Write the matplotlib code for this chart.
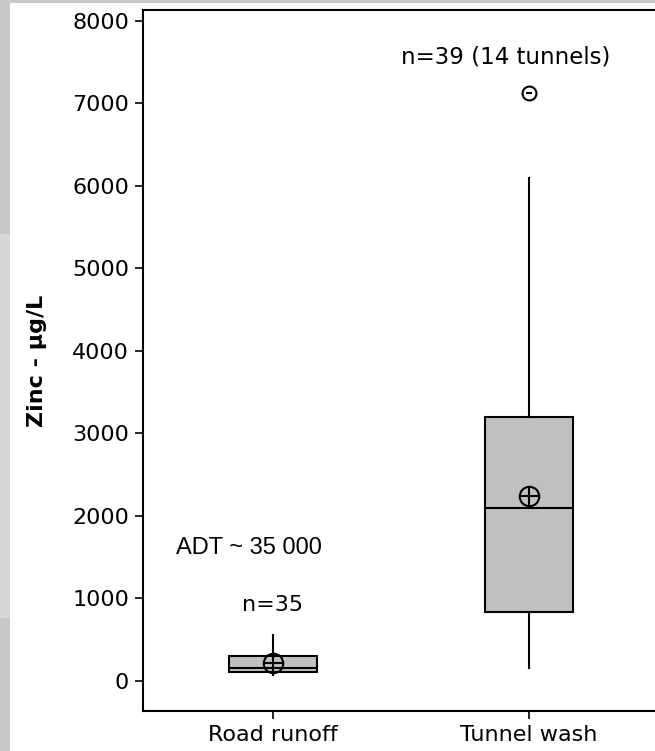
import matplotlib
matplotlib.use("Agg")
import matplotlib.pyplot as plt
from matplotlib.patches import Rectangle

# datos
categorias = ["Road runoff", "Tunnel wash"]
q1 = [110, 835]
mediana = [155, 2095]
q3 = [300, 3200]
bigote_min = [70, 155]
bigote_max = [555, 6100]
media = [218, 2240]
atipicos = [[], [7125]]
y_ticks = [0, 1000, 2000, 3000, 4000, 5000, 6000, 7000, 8000]

fig = plt.figure(figsize=(6.55, 7.51), dpi=100, facecolor="#c8c8c8")

# fondo blanco del panel
fig.add_artist(Rectangle((10 / 655, 0), 1, 748 / 751, transform=fig.transFigure,
                         facecolor="white", edgecolor="none", zorder=-2))
fig.add_artist(Rectangle((0, (751 - 618) / 751), 10 / 655, 384 / 751, transform=fig.transFigure,
                         facecolor="#d6d6d6", edgecolor="none", zorder=-2))

ax = fig.add_axes([143 / 655, 40 / 751, 1 - 143 / 655, 701 / 751])
ax.set_zorder(2)
ax.set_facecolor("none")

stats = []
for i in range(len(categorias)):
    stats.append(dict(label=categorias[i], q1=q1[i], med=mediana[i], q3=q3[i],
                      whislo=bigote_min[i], whishi=bigote_max[i],
                      mean=media[i], fliers=atipicos[i]))

ax.bxp(stats, positions=[1, 2], widths=0.344, patch_artist=True, showcaps=False,
       boxprops=dict(facecolor="#c0c0c0", edgecolor="black", linewidth=1.5),
       medianprops=dict(color="black", linewidth=1.5),
       whiskerprops=dict(color="black", linewidth=1.5),
       flierprops=dict(marker="o", markersize=10, markerfacecolor="none",
                       markeredgecolor="black", markeredgewidth=1.5))

# medias (circulo con cruz)
ax.plot([1, 2], media, "o", ms=14, mfc="none", mec="black", mew=1.5, zorder=5)
ax.plot([1, 2], media, "+", ms=14, mec="black", mew=1.5, zorder=5)
# punto central del atipico
ax.plot([2], atipicos[1], "_", ms=4, mec="black", mew=1.5, zorder=5)

ax.set_xlim(0.492, 2.492)
ax.set_ylim(-364, 8133)
ax.set_yticks(y_ticks)
ax.set_xticks([1, 2])
ax.set_xticklabels(categorias)
ax.tick_params(direction="out", length=6, width=1.2, labelsize=16, pad=4)
for s in ["left", "bottom", "top"]:
    ax.spines[s].set_linewidth(1.5)
ax.spines["right"].set_visible(False)

ax.set_ylabel("Zinc - µg/L", fontsize=16, fontweight="bold", labelpad=18)

ax.text(1.91, 7560, "n=39 (14 tunnels)", ha="center", va="center", fontsize=16.5)
ax.text(0.906, 1612, "ADT ~ 35 000", ha="center", va="center", fontsize=17,
        family="Liberation Sans")
ax.text(1, 921, "n=35", ha="center", va="center", fontsize=16)

fig.savefig("out.png", dpi=100, facecolor=fig.get_facecolor())
